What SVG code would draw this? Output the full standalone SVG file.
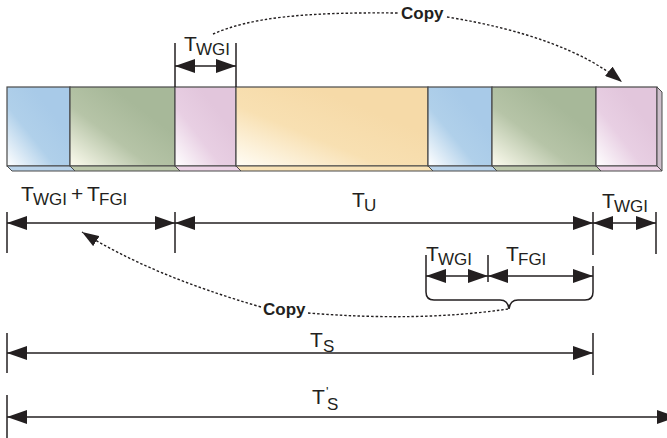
<svg xmlns="http://www.w3.org/2000/svg" width="667" height="438" viewBox="0 0 667 438">
<style>
.t{font-family:"Liberation Sans",Arial,Helvetica,sans-serif;font-size:21px;fill:#231f20}
.s{font-size:17px}
.cp{font-family:"Liberation Sans",Arial,Helvetica,sans-serif;font-size:17px;font-weight:bold;fill:#231f20}
.dim{stroke:#231f20;stroke-width:1.5;fill:none}
.dimA{stroke:#231f20;stroke-width:1.5;fill:none;marker-start:url(#ah);marker-end:url(#ah)}
.dot{stroke:#231f20;stroke-width:1.4;fill:none;stroke-dasharray:2.5 2}
.seg{stroke:#4a4a4a;stroke-width:1.2}
.bot{stroke:#4a4a4a;stroke-width:1}
</style>
<defs>
<marker id="ah" markerUnits="userSpaceOnUse" viewBox="0 0 20 14" markerWidth="20" markerHeight="14" refX="20" refY="7" orient="auto-start-reverse"><path d="M0,0 L20,7 L0,14 z" fill="#231f20"/></marker>
<marker id="ad" markerUnits="userSpaceOnUse" viewBox="0 0 17 12" markerWidth="17" markerHeight="12" refX="17" refY="6" orient="auto"><path d="M0,0 L17,6 L0,12 z" fill="#231f20"/></marker>
<linearGradient id="gB" x1="0" y1="1" x2="0.7" y2="0.3"><stop offset="0" stop-color="#ffffff"/><stop offset="0.55" stop-color="#b0d0ea"/><stop offset="1" stop-color="#a8cae8"/></linearGradient>
<linearGradient id="gG" x1="0" y1="1" x2="0.7" y2="0.3"><stop offset="0" stop-color="#fdfcef"/><stop offset="0.55" stop-color="#b6c4a7"/><stop offset="1" stop-color="#a7b899"/></linearGradient>
<linearGradient id="gP" x1="0" y1="1" x2="0.7" y2="0.3"><stop offset="0" stop-color="#ffffff"/><stop offset="0.55" stop-color="#e8cfe3"/><stop offset="1" stop-color="#e2c6dc"/></linearGradient>
<linearGradient id="gY" x1="0" y1="1" x2="0.7" y2="0.3"><stop offset="0" stop-color="#fffdf6"/><stop offset="0.55" stop-color="#f8e0b2"/><stop offset="1" stop-color="#f6daa8"/></linearGradient>
</defs>

<g id="bar">
<g id="seg1"><rect class="seg" x="7" y="87" width="63" height="79" fill="url(#gB)"/><polygon class="bot" points="7,166 70,166 75,171 12,171" fill="#b9d3ea"/></g>
<g id="seg2"><rect class="seg" x="70" y="87" width="105" height="79" fill="url(#gG)"/><polygon class="bot" points="70,166 175,166 180,171 75,171" fill="#bcc8ab"/></g>
<g id="seg3"><rect class="seg" x="175" y="87" width="61" height="79" fill="url(#gP)"/><polygon class="bot" points="175,166 236,166 241,171 180,171" fill="#ecd3e6"/></g>
<g id="seg4"><rect class="seg" x="236" y="87" width="192" height="79" fill="url(#gY)"/><polygon class="bot" points="236,166 428,166 433,171 241,171" fill="#f8e2b6"/></g>
<g id="seg5"><rect class="seg" x="428" y="87" width="64" height="79" fill="url(#gB)"/><polygon class="bot" points="428,166 492,166 497,171 433,171" fill="#b9d3ea"/></g>
<g id="seg6"><rect class="seg" x="492" y="87" width="104" height="79" fill="url(#gG)"/><polygon class="bot" points="492,166 596,166 601,171 497,171" fill="#bcc8ab"/></g>
<g id="seg7"><rect class="seg" x="596" y="87" width="61" height="79" fill="url(#gP)"/><polygon class="bot" points="596,166 657,166 662,171 601,171" fill="#ecd3e6"/><polygon class="bot" points="657,87 662,92 662,171 657,166" fill="#cdbfcb"/></g>
</g>

<g id="dimensions">
<g id="dimTopWGI"><line class="dim" x1="175" y1="43" x2="175" y2="87"/><line class="dim" x1="236" y1="43" x2="236" y2="87"/><line class="dimA" x1="175" y1="66" x2="236" y2="66"/></g>
<g id="dimRow1">
<line class="dim" x1="7" y1="212" x2="7" y2="253"/>
<line class="dim" x1="175" y1="212" x2="175" y2="253"/>
<line class="dim" x1="593" y1="212" x2="593" y2="255"/>
<line class="dim" x1="656" y1="212" x2="656" y2="254"/>
<line class="dimA" x1="7" y1="223" x2="175" y2="223"/>
<line class="dimA" x1="175" y1="223" x2="593" y2="223"/>
<line class="dimA" x1="593" y1="223" x2="656" y2="223"/>
</g>
<g id="dimRow2">
<line class="dim" x1="488" y1="255" x2="488" y2="282"/>
<path class="dim" d="M426,255 L426,292 Q426,300 434,300 L500,300 Q508,300 509,309 Q510,300 518,300 L585,300 Q593,300 593,292 L593,266"/>
<line class="dimA" x1="426" y1="276" x2="488" y2="276"/>
<line class="dimA" x1="488" y1="276" x2="593" y2="276"/>
</g>
<g id="dimTS">
<line class="dim" x1="7" y1="333" x2="7" y2="373"/>
<line class="dim" x1="593" y1="333" x2="593" y2="375"/>
<line class="dimA" x1="7" y1="353" x2="593" y2="353"/>
</g>
<g id="dimTSp">
<line class="dim" x1="7" y1="395" x2="7" y2="438"/>
<line class="dimA" x1="7" y1="417" x2="677" y2="417"/>
</g>
</g>

<g id="labels">
<text class="t" x="184" y="51">T<tspan class="s" x="196" y="55">WGI</tspan></text>
<text class="t" x="21" y="201">T<tspan class="s" x="33" y="205">WGI</tspan><tspan x="71" y="201">+</tspan><tspan x="87" y="201">T</tspan><tspan class="s" x="99" y="205">FGI</tspan></text>
<text class="t" x="352" y="207">T<tspan class="s" x="364" y="211">U</tspan></text>
<text class="t" x="602" y="208">T<tspan class="s" x="614" y="212">WGI</tspan></text>
<text class="t" x="426" y="261">T<tspan class="s" x="438" y="265">WGI</tspan></text>
<text class="t" x="506" y="261">T<tspan class="s" x="518" y="265">FGI</tspan></text>
<text class="t" x="310" y="347">T<tspan class="s" x="323" y="352">S</tspan></text>
<text class="t" x="312" y="404">T<tspan style="font-size:13px" x="326" y="396">'</tspan><tspan class="s" x="327" y="410">S</tspan></text>
<text class="cp" x="401" y="19">Copy</text>
<text class="cp" x="263" y="315">Copy</text>
</g>

<g id="connectors">
<path class="dot" d="M213,34 C250,18 300,12 398,13"/>
<path class="dot" d="M447,17 Q565,36 622,82" marker-end="url(#ad)"/>
<path class="dot" d="M508,309 Q420,322 308,313"/>
<path class="dot" d="M261,307 Q150,275 82,232" marker-end="url(#ad)"/>
</g>
</svg>
